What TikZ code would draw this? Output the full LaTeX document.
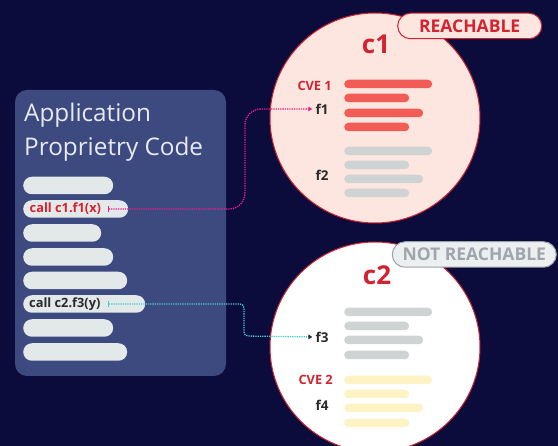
\documentclass[tikz,border=0pt]{standalone}
\usepackage{fontspec}
\setmainfont{Open Sans}
\usetikzlibrary{arrows.meta,calc}

\definecolor{bgnavy}{HTML}{0B0B3C}
\definecolor{panelblue}{HTML}{3D4A7F}
\definecolor{titlegrey}{HTML}{E8EAF2}
\definecolor{barlight}{HTML}{E3E8E8}
\definecolor{alertred}{HTML}{D42330}
\definecolor{cvered}{HTML}{F25C57}
\definecolor{midgrey}{HTML}{CFD3D3}
\definecolor{paleyellow}{HTML}{FDF3C4}
\definecolor{pinkfill}{HTML}{FDE6E0}
\definecolor{inkdark}{HTML}{2A2A2A}
\definecolor{linkmagenta}{HTML}{EC1C8C}
\definecolor{linkteal}{HTML}{45CCD0}
\definecolor{badgegrey}{HTML}{ECEFF0}
\definecolor{badgeline}{HTML}{9AA0A8}
\definecolor{badgetext}{HTML}{A0A4AC}

\tikzset{
  codebar/.style={fill=barlight, draw=none, rounded corners=8.75pt,
    minimum height=17.5pt, inner sep=0pt, anchor=west},
  codetext/.style={anchor=west, inner sep=0pt,
    font=\fontsize{12.8}{14}\selectfont\bfseries},
  fnbar/.style={draw=none, rounded corners=4.25pt, minimum height=8.5pt,
    inner sep=0pt, anchor=west},
  fnlabel/.style={inner sep=0pt, text=inkdark,
    font=\fontsize{13.5}{15}\selectfont\bfseries},
  cvelabel/.style={inner sep=0pt, anchor=east, text=alertred,
    font=\fontsize{12.8}{15}\selectfont\bfseries},
  component/.style={circle, draw=alertred, line width=1pt, inner sep=0pt,
    minimum size=210pt},
  complabel/.style={inner sep=0pt, text=alertred,
    font=\fontsize{26}{30}\selectfont\bfseries},
  badge/.style={rounded corners=12.75pt, line width=1pt, inner sep=0pt,
    minimum height=25.5pt, font=\fontsize{17.5}{20}\selectfont\bfseries},
  titletext/.style={anchor=base west, inner sep=0pt, text=titlegrey,
    font=\fontsize{24.3}{29}\selectfont},
  link/.style={line width=1.3pt, dash pattern=on 1.3pt off 1pt},
  linkends/.style={{Bar[width=6pt,line width=1pt]}-{Triangle[length=4pt,width=4.5pt,#1]}},
  linkends/.default={}
}

\begin{document}
\begin{tikzpicture}[x=1pt,y=-1pt]
\fill[bgnavy] (0,0) rectangle (558,446);
\useasboundingbox (0,0) rectangle (558,446);

% application panel
\node[fill=panelblue, rounded corners=12pt, minimum width=211pt,
      minimum height=286pt, inner sep=0pt] (app) at (120.5,233) {};
\node[titletext] (title1) at (24,122) {Application};
\node[titletext] (title2) at (24,156) {Proprietry Code};

% code lines
\node[codebar, minimum width=90pt]  (bar1) at (23,185.5) {};
\node[codebar, minimum width=105pt] (bar2) at (23,209) {};
\node[codebar, minimum width=78pt]  (bar3) at (23,233) {};
\node[codebar, minimum width=90pt]  (bar4) at (23,257) {};
\node[codebar, minimum width=104pt] (bar5) at (23,280.5) {};
\node[codebar, minimum width=122pt] (bar6) at (23,304) {};
\node[codebar, minimum width=90pt]  (bar7) at (23,328) {};
\node[codebar, minimum width=104pt] (bar8) at (23,352) {};
\node[codetext, text=alertred] (call1) at (29.5,209) {call c1.f1(x)};
\node[codetext, text=inkdark]  (call2) at (29,304) {call c2.f3(y)};

% component c1
\node[component, fill=pinkfill] (c1) at (375,118) {};
\node[complabel] (c1name) at (376,44) {c1};
\node[cvelabel] (cve1) at (332,86) {CVE 1};
\node[fnbar, fill=cvered, minimum width=88pt] (r1) at (344,84) {};
\node[fnbar, fill=cvered, minimum width=65pt] (r2) at (344,98) {};
\node[fnbar, fill=cvered, minimum width=79pt] (r3) at (344,113) {};
\node[fnbar, fill=cvered, minimum width=65pt] (r4) at (344,127) {};
\node[fnlabel] (f1) at (322,109) {f1};
\node[fnbar, fill=midgrey, minimum width=88pt] (g1) at (344,151) {};
\node[fnbar, fill=midgrey, minimum width=65pt] (g2) at (344,165) {};
\node[fnbar, fill=midgrey, minimum width=79pt] (g3) at (344,179) {};
\node[fnbar, fill=midgrey, minimum width=65pt] (g4) at (344,193) {};
\node[fnlabel] (f2) at (322,175) {f2};
\node[badge, draw=alertred, fill=pinkfill, text=alertred,
      minimum width=144pt] (reach) at (469.7,26) {REACHABLE};

% component c2
\node[component, fill=white] (c2) at (375,347) {};
\node[complabel] (c2name) at (377,275) {c2};
\node[fnbar, fill=midgrey, minimum width=88pt] (h1) at (344,312) {};
\node[fnbar, fill=midgrey, minimum width=65pt] (h2) at (344,326) {};
\node[fnbar, fill=midgrey, minimum width=79pt] (h3) at (344,340) {};
\node[fnbar, fill=midgrey, minimum width=65pt] (h4) at (344,355) {};
\node[fnlabel] (f3) at (322,337) {f3};
\node[cvelabel] (cve2) at (333,380) {CVE 2};
\node[fnbar, fill=paleyellow, minimum width=88pt] (y1) at (344,380) {};
\node[fnbar, fill=paleyellow, minimum width=65pt] (y2) at (344,394) {};
\node[fnbar, fill=paleyellow, minimum width=79pt] (y3) at (344,408) {};
\node[fnbar, fill=paleyellow, minimum width=65pt] (y4) at (344,423) {};
\node[fnlabel] (f4) at (322,405) {f4};
\node[badge, draw=badgeline, fill=badgegrey, text=badgetext,
      minimum width=164pt] (notreach) at (474.3,254.5) {NOT REACHABLE};

% call links
\coordinate (s1) at (108,209);
\coordinate (k1) at (245,109);
\draw[link, linkends, linkmagenta, rounded corners=16pt, shorten >=3pt]
  (s1) -| (k1) -- (f1.west);
\coordinate (s2) at (108,304);
\coordinate (k2) at (244,336);
\draw[link, linkends={color=inkdark}, linkteal, rounded corners=4pt, shorten >=3pt]
  (s2) -| (k2) -- (f3.west);
\end{tikzpicture}
\end{document}
